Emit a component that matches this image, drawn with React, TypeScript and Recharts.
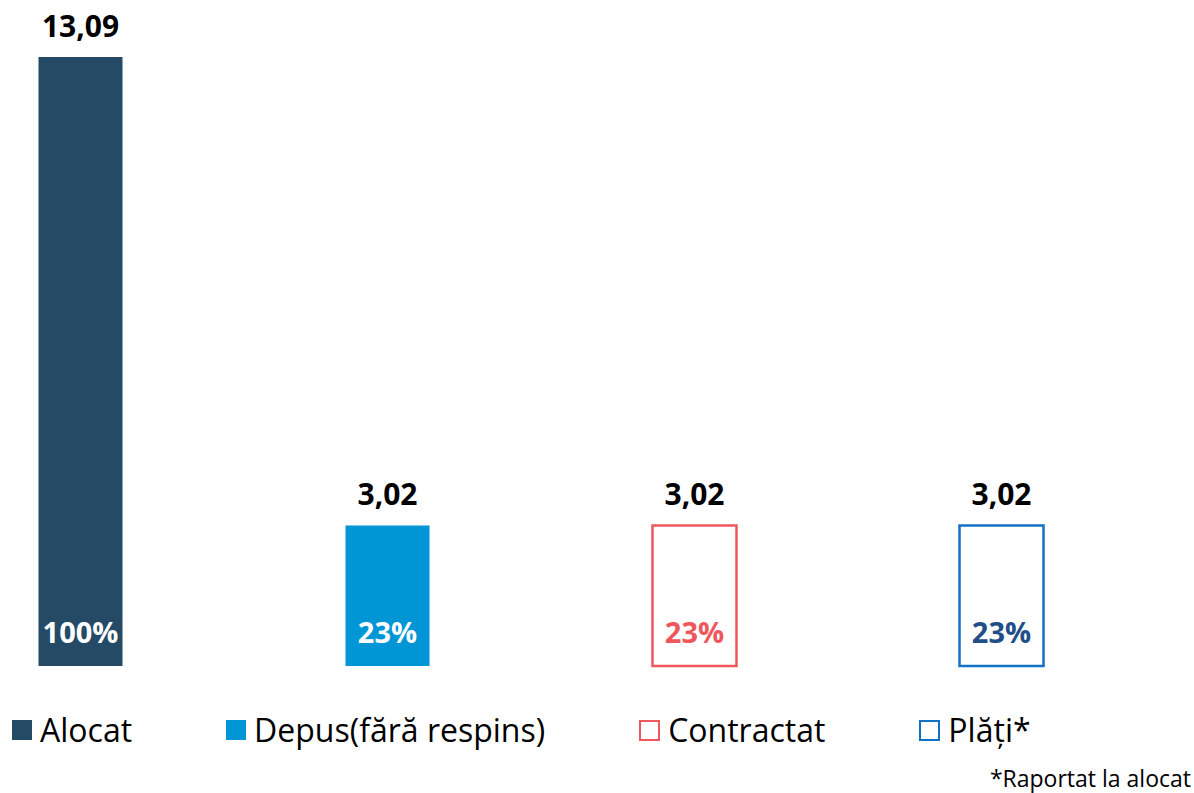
import React from "react";
import { BarChart, Bar, XAxis, YAxis, Cell, LabelList } from "recharts";

const categories = ["Alocat", "Depus(fără respins)", "Contractat", "Plăți*"];
const values = [13.09, 3.02, 3.02, 3.02];
const percents = ["100%", "23%", "23%", "23%"];
const fills = ["#244A66", "#0096D6", "#FFFFFF", "#FFFFFF"];
const strokes = ["#244A66", "#0096D6", "#EE575C", "#1472C4"];
const pctColors = ["#FFFFFF", "#FFFFFF", "#EE575C", "#1F4E89"];
const footnote = "*Raportat la alocat";

const data = categories.map((name, i) => ({ name, value: values[i], pct: percents[i] }));

const FONT = "'Open Sans', 'Noto Sans', sans-serif";

const ValueLabel = (props: any) => {
  const { x, y, width, value } = props;
  return (
    <text
      x={x + width / 2}
      y={y - 32}
      textAnchor="middle"
      dominantBaseline="central"
      fontFamily={FONT}
      fontWeight={700}
      fontSize={30}
      fill="#000"
    >
      {Number(value).toFixed(2).replace(".", ",")}
    </text>
  );
};

const PctLabel = (props: any) => {
  const { x, y, width, height, index } = props;
  return (
    <text
      x={x + width / 2}
      y={y + height - 35}
      textAnchor="middle"
      dominantBaseline="central"
      fontFamily={FONT}
      fontWeight={700}
      fontSize={29}
      fill={pctColors[index]}
    >
      {percents[index]}
    </text>
  );
};

export default function App() {
  return (
    <div style={{ position: "absolute", left: 0, top: 0, width: 1194, height: 793, background: "#fff", fontFamily: FONT }}>
      <BarChart
        width={1194}
        height={710}
        data={data}
        margin={{ top: 57, right: 193, bottom: 44, left: 80 }}
      >
        <XAxis dataKey="name" scale="point" hide padding={{ left: 0, right: 0 }} />
        <YAxis hide domain={[0, "dataMax"]} />
        <Bar dataKey="value" barSize={84} isAnimationActive={false}>
          {data.map((d, i) => (
            <Cell key={d.name} fill={fills[i]} stroke={strokes[i]} strokeWidth={i >= 2 ? 2.5 : 0} />
          ))}
          <LabelList dataKey="value" content={ValueLabel} />
          <LabelList dataKey="pct" content={PctLabel} />
        </Bar>
      </BarChart>
      <div
        style={{
          position: "absolute",
          left: 12,
          top: 710,
          display: "flex",
          alignItems: "center",
          gap: 94,
          fontSize: 32,
          lineHeight: "40px",
          color: "#000",
        }}
      >
        {categories.map((c, i) => (
          <div key={c} style={{ display: "flex", alignItems: "center" }}>
            <span
              style={{
                display: "inline-block",
                width: i >= 2 ? 17 : 20,
                height: i >= 2 ? 17 : 20,
                background: fills[i],
                border: i >= 2 ? `2.5px solid ${strokes[i]}` : "none",
                marginRight: 8,
              }}
            />
            <span>{c}</span>
          </div>
        ))}
      </div>
      <div
        style={{
          position: "absolute",
          right: 3,
          top: 764,
          fontSize: 23,
          lineHeight: "28px",
          color: "#000",
        }}
      >
        {footnote}
      </div>
    </div>
  );
}
